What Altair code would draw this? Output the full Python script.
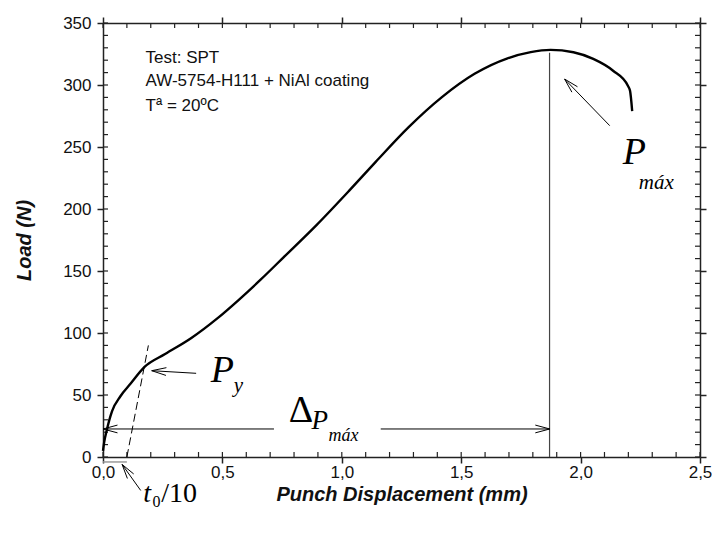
import math
import altair as alt
import pandas as pd

W, H = 597, 434
XMAX, YMAX = 2.5, 350

# ---- curve data ----
disp = [0.0, 0.005, 0.015, 0.038, 0.073, 0.115, 0.174, 0.26, 0.37, 0.48, 0.57,
        0.66, 0.756, 0.894, 1.032, 1.142, 1.28, 1.418, 1.556, 1.694,
        1.791, 1.874, 1.97, 2.053, 2.136, 2.198, 2.207, 2.216]
load = [5, 12, 21, 37, 49, 59, 72.6, 83, 96, 112, 127,
        143, 161, 187, 215, 238, 266, 290, 309, 321.5,
        326.5, 328.3, 326.4, 321, 311.5, 299.4, 295.4, 279]

x_major = [0.0, 0.5, 1.0, 1.5, 2.0, 2.5]
y_major = [0, 50, 100, 150, 200, 250, 300, 350]
x_minor = [0.0, 0.1, 0.2, 0.3, 0.4, 0.5, 0.6, 0.7, 0.8, 0.9, 1.0, 1.1, 1.2,
           1.3, 1.4, 1.5, 1.6, 1.7, 1.8, 1.9, 2.0, 2.1, 2.2, 2.3, 2.4, 2.5]
y_minor = [0, 10, 20, 30, 40, 50, 60, 70, 80, 90, 100, 110, 120, 130, 140, 150,
           160, 170, 180, 190, 200, 210, 220, 230, 240, 250, 260, 270, 280, 290,
           300, 310, 320, 330, 340, 350]

# annotations
pmax_x, pmax_top = 1.87, 326
yield_line_x = [0.1, 0.19]
yield_line_y = [0, 90]
delta_y = 22.6
bracket_x = [0.0, 0.1]
bracket_y = -4
# arrows: (tip_x, tip_y, tail_x, tail_y)
arrows = [
    (1.933, 304.8, 2.122, 267.2),   # P max
    (0.204, 69.6, 0.390, 67.5),     # P y
    (0.0, delta_y, 0.716, delta_y), # delta left
    (1.871, delta_y, 1.163, delta_y),  # delta right
    (0.08, -6, 0.158, -27),         # t0/10
]
info_lines = ["Test: SPT", "AW-5754-H111 + NiAl coating", "Tª = 20ºC"]
info_x = 0.178
info_y = [317.5, 299, 279.3]

SX = W / XMAX
SY = H / YMAX


def heads(tip_x, tip_y, tail_x, tail_y, L=15, ang=math.radians(15)):
    dx = (tail_x - tip_x) * SX
    dy = (tail_y - tip_y) * SY
    n = math.hypot(dx, dy)
    ux, uy = dx / n, dy / n
    out = []
    for s in (1, -1):
        c, si = math.cos(s * ang), math.sin(s * ang)
        rx = ux * c - uy * si
        ry = ux * si + uy * c
        out.append(dict(x=tip_x, y=tip_y, x2=tip_x + rx * L / SX, y2=tip_y + ry * L / SY))
    return out


xs = alt.Scale(domain=[0, XMAX], nice=False, zero=False)
ys = alt.Scale(domain=[0, YMAX], nice=False, zero=False)


def X(f):
    return alt.X(f, type="quantitative", scale=xs, axis=None)


def Y(f):
    return alt.Y(f, type="quantitative", scale=ys, axis=None)


df_curve = pd.DataFrame({"d": disp, "p": load})

curve = alt.Chart(df_curve).mark_line(
    color="black", strokeWidth=2.4, interpolate="monotone"
).encode(
    x=alt.X("d:Q", scale=xs, axis=alt.Axis(
        orient="bottom", values=x_major, title="Punch Displacement (mm)",
        labelExpr="replace(format(datum.value, '.1f'), '.', ',')",
        labelFlush=False, labelOverlap=False,
        tickSize=6, labelPadding=1, titlePadding=4)),
    y=alt.Y("p:Q", scale=ys, axis=alt.Axis(
        orient="left", values=y_major, title="Load (N)", format="d",
        labelFlush=False, labelOverlap=False,
        tickSize=6, labelPadding=6, titlePadding=28)),
)

frame_axes = alt.Chart(df_curve).mark_point(opacity=0).encode(
    x=alt.X("d:Q", scale=xs, axis=alt.Axis(
        orient="top", values=x_major, labels=False, title=None, tickSize=6)),
    y=alt.Y("p:Q", scale=ys, axis=alt.Axis(
        orient="right", values=y_major, labels=False, title=None, tickSize=6)),
)

df_xt = pd.DataFrame({"v": x_minor})
df_yt = pd.DataFrame({"v": y_minor})
tick_style = dict(color="#222", strokeWidth=1.2)
tk_top = alt.Chart(df_xt).mark_rule(**tick_style).encode(
    x=X("v"), y=alt.value(0), y2=alt.value(5))
tk_bot = alt.Chart(df_xt).mark_rule(**tick_style).encode(
    x=X("v"), y=alt.value(H - 5), y2=alt.value(H))
tk_left = alt.Chart(df_yt).mark_rule(**tick_style).encode(
    y=Y("v"), x=alt.value(0), x2=alt.value(5))
tk_right = alt.Chart(df_yt).mark_rule(**tick_style).encode(
    y=Y("v"), x=alt.value(W - 5), x2=alt.value(W))

vline = alt.Chart(pd.DataFrame({"x": [pmax_x], "y": [0], "y2": [pmax_top]})).mark_rule(
    color="#444", strokeWidth=1.2).encode(x=X("x"), y=Y("y"), y2="y2")

dashed = alt.Chart(pd.DataFrame({"x": yield_line_x, "y": yield_line_y})).mark_line(
    color="black", strokeWidth=1, strokeDash=[8, 4]).encode(x=X("x"), y=Y("y"))

bracket = alt.Chart(pd.DataFrame({"x": [bracket_x[0]], "x2": [bracket_x[1]], "y": [bracket_y]})).mark_rule(
    color="#9a9a9a", strokeWidth=1.5).encode(x=X("x"), x2="x2", y=Y("y"))

shaft_rows = [dict(x=a[0], y=a[1], x2=a[2], y2=a[3]) for a in arrows]
head_rows = []
for a in arrows:
    head_rows += heads(*a)
arrow_df = pd.DataFrame(shaft_rows + head_rows)
arrow_layer = alt.Chart(arrow_df).mark_rule(color="black", strokeWidth=1).encode(
    x=X("x"), y=Y("y"), x2="x2", y2="y2")

info = alt.Chart(pd.DataFrame({"x": [info_x] * 3, "y": info_y, "t": info_lines})).mark_text(
    align="left", baseline="alphabetic", font="Liberation Sans", fontSize=17, color="#111"
).encode(x=X("x"), y=Y("y"), text="t:N")


def serif(rows, size, style="italic"):
    return alt.Chart(pd.DataFrame(rows)).mark_text(
        align="left", baseline="alphabetic", font="Liberation Serif",
        fontSize=size, fontStyle=style, color="black"
    ).encode(x=X("x"), y=Y("y"), text="t:N")


big_p = serif([dict(x=2.177, y=236.3, t="P"), dict(x=0.451, y=60.5, t="P")], 38)
sub_main = serif([dict(x=2.244, y=216, t="máx"), dict(x=0.548, y=52.8, t="y")], 21)
delta = serif([dict(x=0.778, y=28.2, t="Δ")], 38, "normal")
delta_p = serif([dict(x=0.873, y=22.6, t="P")], 27)
delta_sub = serif([dict(x=0.944, y=12.9, t="máx")], 18)
t0_t = serif([dict(x=0.169, y=-36.3, t="t")], 28)
t0_0 = serif([dict(x=0.207, y=-40.3, t="0")], 16, "normal")
t0_10 = serif([dict(x=0.244, y=-36.3, t="/10")], 28, "normal")

chart = alt.layer(
    tk_top, tk_bot, tk_left, tk_right, vline, dashed, bracket, arrow_layer,
    info, big_p, sub_main, delta, delta_p, delta_sub, t0_t, t0_0, t0_10,
    curve, frame_axes,
).resolve_axis(x="independent", y="independent").properties(
    width=W, height=H,
    background="white",
    padding={"left": 6, "top": 6, "right": 0, "bottom": 0},
).configure_view(stroke=None).configure_axis(
    grid=False,
    labelFont="Liberation Sans", labelFontSize=17, labelColor="#111",
    titleFont="Liberation Sans", titleFontSize=20, titleFontWeight="bold",
    titleFontStyle="italic", titleColor="#111",
    domainColor="#222", domainWidth=1.5, tickColor="#222", tickWidth=1.5,
)

chart.save("out.html", embed_options={"renderer": "svg", "actions": False})
